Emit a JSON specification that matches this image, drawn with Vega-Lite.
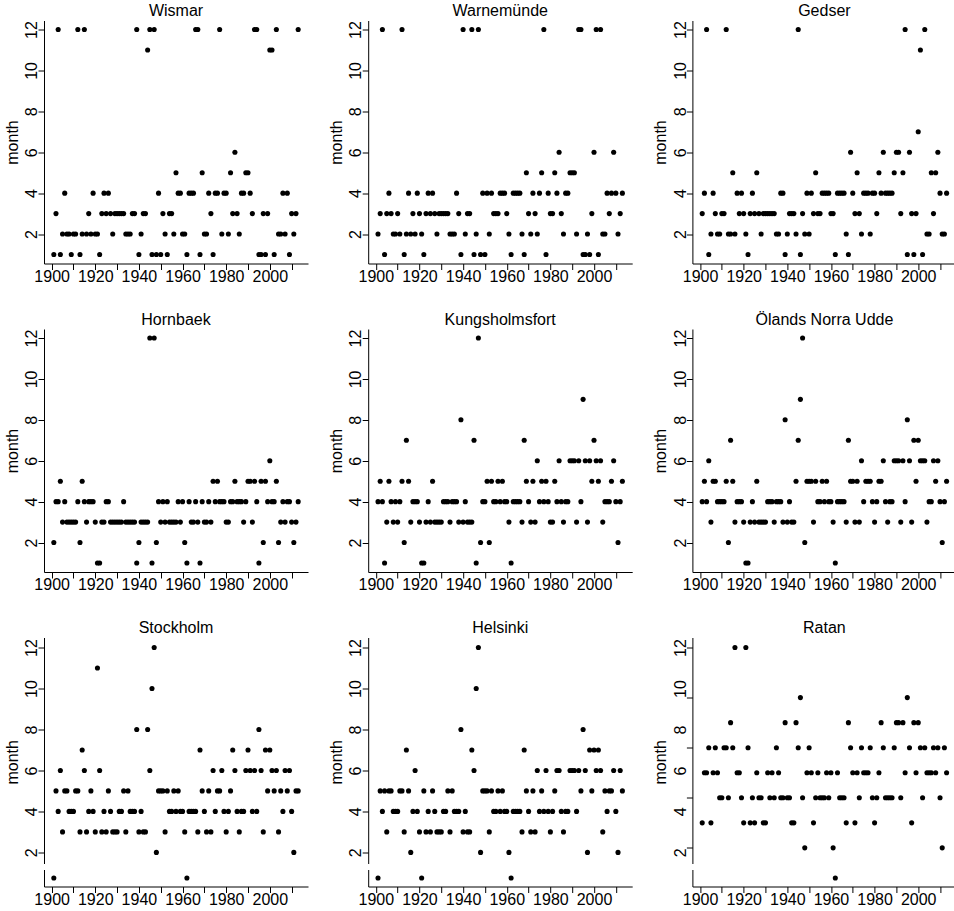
{
  "$schema": "https://vega.github.io/schema/vega-lite/v6.json",
  "background": "white",
  "padding": {"left": 3, "top": 2.5, "right": 0, "bottom": 0},
  "datasets": {
    "wismar": [
      {"year":1901,"month":1},{"year":1902,"month":3},{"year":1903,"month":12},{"year":1904,"month":1},{"year":1905,"month":2},{"year":1906,"month":4},{"year":1907,"month":2},{"year":1908,"month":2},{"year":1909,"month":1},{"year":1910,"month":2},
      {"year":1911,"month":2},{"year":1912,"month":12},{"year":1913,"month":1},{"year":1914,"month":2},{"year":1915,"month":12},{"year":1916,"month":2},{"year":1917,"month":3},{"year":1918,"month":2},{"year":1919,"month":4},{"year":1920,"month":2},
      {"year":1921,"month":2},{"year":1922,"month":1},{"year":1923,"month":3},{"year":1924,"month":4},{"year":1925,"month":3},{"year":1926,"month":4},{"year":1927,"month":3},{"year":1928,"month":2},{"year":1929,"month":3},{"year":1930,"month":3},
      {"year":1931,"month":3},{"year":1932,"month":3},{"year":1933,"month":3},{"year":1934,"month":2},{"year":1935,"month":2},{"year":1936,"month":2},{"year":1937,"month":3},{"year":1938,"month":3},{"year":1939,"month":12},{"year":1940,"month":1},
      {"year":1941,"month":2},{"year":1942,"month":3},{"year":1943,"month":3},{"year":1944,"month":11},{"year":1945,"month":12},{"year":1946,"month":1},{"year":1947,"month":12},{"year":1948,"month":1},{"year":1949,"month":4},{"year":1950,"month":1},
      {"year":1951,"month":3},{"year":1952,"month":2},{"year":1953,"month":1},{"year":1954,"month":3},{"year":1955,"month":3},{"year":1956,"month":2},{"year":1957,"month":5},{"year":1958,"month":4},{"year":1959,"month":4},{"year":1960,"month":2},
      {"year":1961,"month":2},{"year":1962,"month":1},{"year":1963,"month":4},{"year":1964,"month":4},{"year":1965,"month":4},{"year":1966,"month":12},{"year":1967,"month":12},{"year":1968,"month":1},{"year":1969,"month":5},{"year":1970,"month":2},
      {"year":1971,"month":2},{"year":1972,"month":4},{"year":1973,"month":3},{"year":1974,"month":1},{"year":1975,"month":4},{"year":1976,"month":4},{"year":1977,"month":12},{"year":1978,"month":2},{"year":1979,"month":4},{"year":1980,"month":4},
      {"year":1981,"month":2},{"year":1982,"month":5},{"year":1983,"month":3},{"year":1984,"month":6},{"year":1985,"month":3},{"year":1986,"month":2},{"year":1987,"month":4},{"year":1988,"month":4},{"year":1989,"month":5},{"year":1990,"month":5},
      {"year":1991,"month":4},{"year":1992,"month":3},{"year":1993,"month":12},{"year":1994,"month":12},{"year":1995,"month":1},{"year":1996,"month":1},{"year":1997,"month":3},{"year":1998,"month":1},{"year":1999,"month":3},{"year":2000,"month":11},
      {"year":2001,"month":11},{"year":2002,"month":1},{"year":2003,"month":12},{"year":2004,"month":2},{"year":2005,"month":2},{"year":2006,"month":4},{"year":2007,"month":2},{"year":2008,"month":4},{"year":2009,"month":1},{"year":2010,"month":3},
      {"year":2011,"month":2},{"year":2012,"month":3},{"year":2013,"month":12}
    ],
    "warnemunde": [
      {"year":1901,"month":2},{"year":1902,"month":3},{"year":1903,"month":12},{"year":1904,"month":1},{"year":1905,"month":3},{"year":1906,"month":4},{"year":1907,"month":3},{"year":1908,"month":2},{"year":1909,"month":2},{"year":1910,"month":3},
      {"year":1911,"month":2},{"year":1912,"month":12},{"year":1913,"month":1},{"year":1914,"month":2},{"year":1915,"month":4},{"year":1916,"month":2},{"year":1917,"month":3},{"year":1918,"month":2},{"year":1919,"month":4},{"year":1920,"month":3},
      {"year":1921,"month":2},{"year":1922,"month":1},{"year":1923,"month":3},{"year":1924,"month":4},{"year":1925,"month":3},{"year":1926,"month":4},{"year":1927,"month":3},{"year":1928,"month":2},{"year":1929,"month":3},{"year":1930,"month":3},
      {"year":1931,"month":3},{"year":1932,"month":3},{"year":1933,"month":3},{"year":1934,"month":2},{"year":1935,"month":2},{"year":1936,"month":2},{"year":1937,"month":4},{"year":1938,"month":3},{"year":1939,"month":1},{"year":1940,"month":12},
      {"year":1941,"month":2},{"year":1942,"month":3},{"year":1943,"month":3},{"year":1944,"month":12},{"year":1945,"month":1},{"year":1946,"month":2},{"year":1947,"month":12},{"year":1948,"month":1},{"year":1949,"month":4},{"year":1950,"month":1},
      {"year":1951,"month":4},{"year":1952,"month":2},{"year":1953,"month":4},{"year":1954,"month":3},{"year":1955,"month":3},{"year":1956,"month":3},{"year":1957,"month":4},{"year":1958,"month":4},{"year":1959,"month":4},{"year":1960,"month":3},
      {"year":1961,"month":2},{"year":1962,"month":1},{"year":1963,"month":4},{"year":1964,"month":4},{"year":1965,"month":4},{"year":1966,"month":4},{"year":1967,"month":2},{"year":1968,"month":1},{"year":1969,"month":5},{"year":1970,"month":3},
      {"year":1971,"month":2},{"year":1972,"month":4},{"year":1973,"month":3},{"year":1974,"month":2},{"year":1975,"month":4},{"year":1976,"month":5},{"year":1977,"month":12},{"year":1978,"month":1},{"year":1979,"month":4},{"year":1980,"month":3},
      {"year":1981,"month":3},{"year":1982,"month":5},{"year":1983,"month":4},{"year":1984,"month":6},{"year":1985,"month":3},{"year":1986,"month":2},{"year":1987,"month":4},{"year":1988,"month":4},{"year":1989,"month":5},{"year":1990,"month":5},
      {"year":1991,"month":5},{"year":1992,"month":2},{"year":1993,"month":12},{"year":1994,"month":12},{"year":1995,"month":1},{"year":1996,"month":1},{"year":1997,"month":2},{"year":1998,"month":1},{"year":1999,"month":3},{"year":2000,"month":6},
      {"year":2001,"month":12},{"year":2002,"month":1},{"year":2003,"month":12},{"year":2004,"month":2},{"year":2005,"month":2},{"year":2006,"month":4},{"year":2007,"month":3},{"year":2008,"month":4},{"year":2009,"month":6},{"year":2010,"month":4},
      {"year":2011,"month":2},{"year":2012,"month":3},{"year":2013,"month":4}
    ],
    "gedser": [
      {"year":1901,"month":3},{"year":1902,"month":4},{"year":1903,"month":12},{"year":1904,"month":1},{"year":1905,"month":2},{"year":1906,"month":4},{"year":1907,"month":3},{"year":1908,"month":2},{"year":1909,"month":2},{"year":1910,"month":3},
      {"year":1911,"month":3},{"year":1912,"month":12},{"year":1913,"month":2},{"year":1914,"month":2},{"year":1915,"month":5},{"year":1916,"month":2},{"year":1917,"month":4},{"year":1918,"month":3},{"year":1919,"month":4},{"year":1920,"month":3},
      {"year":1921,"month":2},{"year":1922,"month":1},{"year":1923,"month":3},{"year":1924,"month":4},{"year":1925,"month":3},{"year":1926,"month":5},{"year":1927,"month":3},{"year":1928,"month":2},{"year":1929,"month":3},{"year":1930,"month":3},
      {"year":1931,"month":3},{"year":1932,"month":3},{"year":1933,"month":3},{"year":1934,"month":3},{"year":1935,"month":2},{"year":1936,"month":2},{"year":1937,"month":4},{"year":1938,"month":4},{"year":1939,"month":1},{"year":1940,"month":2},
      {"year":1941,"month":3},{"year":1942,"month":3},{"year":1943,"month":3},{"year":1944,"month":2},{"year":1945,"month":12},{"year":1946,"month":1},{"year":1947,"month":3},{"year":1948,"month":2},{"year":1949,"month":4},{"year":1950,"month":2},
      {"year":1951,"month":4},{"year":1952,"month":3},{"year":1953,"month":5},{"year":1954,"month":3},{"year":1955,"month":3},{"year":1956,"month":4},{"year":1957,"month":4},{"year":1958,"month":4},{"year":1959,"month":4},{"year":1960,"month":3},
      {"year":1961,"month":3},{"year":1962,"month":1},{"year":1963,"month":4},{"year":1964,"month":4},{"year":1965,"month":4},{"year":1966,"month":4},{"year":1967,"month":2},{"year":1968,"month":1},{"year":1969,"month":6},{"year":1970,"month":4},
      {"year":1971,"month":3},{"year":1972,"month":5},{"year":1973,"month":3},{"year":1974,"month":2},{"year":1975,"month":4},{"year":1976,"month":4},{"year":1977,"month":4},{"year":1978,"month":2},{"year":1979,"month":4},{"year":1980,"month":4},
      {"year":1981,"month":3},{"year":1982,"month":5},{"year":1983,"month":4},{"year":1984,"month":6},{"year":1985,"month":4},{"year":1986,"month":4},{"year":1987,"month":4},{"year":1988,"month":4},{"year":1989,"month":5},{"year":1990,"month":6},
      {"year":1991,"month":6},{"year":1992,"month":3},{"year":1993,"month":5},{"year":1994,"month":12},{"year":1995,"month":1},{"year":1996,"month":6},{"year":1997,"month":3},{"year":1998,"month":1},{"year":1999,"month":3},{"year":2000,"month":7},
      {"year":2001,"month":11},{"year":2002,"month":1},{"year":2003,"month":12},{"year":2004,"month":2},{"year":2005,"month":2},{"year":2006,"month":5},{"year":2007,"month":3},{"year":2008,"month":5},{"year":2009,"month":6},{"year":2010,"month":4},
      {"year":2011,"month":2},{"year":2012,"month":2},{"year":2013,"month":4}
    ],
    "hornbaek": [
      {"year":1901,"month":2},{"year":1902,"month":4},{"year":1903,"month":4},{"year":1904,"month":5},{"year":1905,"month":3},{"year":1906,"month":4},{"year":1907,"month":3},{"year":1908,"month":3},{"year":1909,"month":3},{"year":1910,"month":3},
      {"year":1911,"month":3},{"year":1912,"month":4},{"year":1913,"month":2},{"year":1914,"month":5},{"year":1915,"month":4},{"year":1916,"month":3},{"year":1917,"month":4},{"year":1918,"month":4},{"year":1919,"month":4},{"year":1920,"month":3},
      {"year":1921,"month":1},{"year":1922,"month":1},{"year":1923,"month":3},{"year":1924,"month":3},{"year":1925,"month":4},{"year":1926,"month":4},{"year":1927,"month":3},{"year":1928,"month":3},{"year":1929,"month":3},{"year":1930,"month":3},
      {"year":1931,"month":3},{"year":1932,"month":3},{"year":1933,"month":4},{"year":1934,"month":3},{"year":1935,"month":3},{"year":1936,"month":3},{"year":1937,"month":3},{"year":1938,"month":3},{"year":1939,"month":1},{"year":1940,"month":2},
      {"year":1941,"month":3},{"year":1942,"month":3},{"year":1943,"month":3},{"year":1944,"month":3},{"year":1945,"month":12},{"year":1946,"month":1},{"year":1947,"month":12},{"year":1948,"month":2},{"year":1949,"month":4},{"year":1950,"month":3},
      {"year":1951,"month":4},{"year":1952,"month":3},{"year":1953,"month":4},{"year":1954,"month":3},{"year":1955,"month":3},{"year":1956,"month":3},{"year":1957,"month":3},{"year":1958,"month":4},{"year":1959,"month":3},{"year":1960,"month":4},
      {"year":1961,"month":2},{"year":1962,"month":1},{"year":1963,"month":4},{"year":1964,"month":3},{"year":1965,"month":3},{"year":1966,"month":4},{"year":1967,"month":3},{"year":1968,"month":1},{"year":1969,"month":4},{"year":1970,"month":3},
      {"year":1971,"month":3},{"year":1972,"month":4},{"year":1973,"month":3},{"year":1974,"month":5},{"year":1975,"month":4},{"year":1976,"month":5},{"year":1977,"month":4},{"year":1978,"month":4},{"year":1979,"month":4},{"year":1980,"month":3},
      {"year":1981,"month":3},{"year":1982,"month":4},{"year":1983,"month":4},{"year":1984,"month":5},{"year":1985,"month":4},{"year":1986,"month":4},{"year":1987,"month":4},{"year":1988,"month":3},{"year":1989,"month":4},{"year":1990,"month":5},
      {"year":1991,"month":5},{"year":1992,"month":3},{"year":1993,"month":5},{"year":1994,"month":4},{"year":1995,"month":1},{"year":1996,"month":5},{"year":1997,"month":2},{"year":1998,"month":5},{"year":1999,"month":4},{"year":2000,"month":6},
      {"year":2001,"month":4},{"year":2002,"month":4},{"year":2003,"month":5},{"year":2004,"month":2},{"year":2005,"month":3},{"year":2006,"month":4},{"year":2007,"month":3},{"year":2008,"month":4},{"year":2009,"month":4},{"year":2010,"month":3},
      {"year":2011,"month":2},{"year":2012,"month":3},{"year":2013,"month":4}
    ],
    "kungsholmsfort": [
      {"year":1901,"month":4},{"year":1902,"month":5},{"year":1903,"month":4},{"year":1904,"month":1},{"year":1905,"month":3},{"year":1906,"month":5},{"year":1907,"month":4},{"year":1908,"month":3},{"year":1909,"month":4},{"year":1910,"month":3},
      {"year":1911,"month":4},{"year":1912,"month":5},{"year":1913,"month":2},{"year":1914,"month":7},{"year":1915,"month":5},{"year":1916,"month":3},{"year":1917,"month":4},{"year":1918,"month":4},{"year":1919,"month":4},{"year":1920,"month":3},
      {"year":1921,"month":1},{"year":1922,"month":1},{"year":1923,"month":3},{"year":1924,"month":4},{"year":1925,"month":3},{"year":1926,"month":5},{"year":1927,"month":3},{"year":1928,"month":3},{"year":1929,"month":3},{"year":1930,"month":3},
      {"year":1931,"month":4},{"year":1932,"month":4},{"year":1933,"month":4},{"year":1934,"month":3},{"year":1935,"month":4},{"year":1936,"month":4},{"year":1937,"month":4},{"year":1938,"month":3},{"year":1939,"month":8},{"year":1940,"month":3},
      {"year":1941,"month":4},{"year":1942,"month":3},{"year":1943,"month":3},{"year":1944,"month":3},{"year":1945,"month":7},{"year":1946,"month":1},{"year":1947,"month":12},{"year":1948,"month":2},{"year":1949,"month":4},{"year":1950,"month":4},
      {"year":1951,"month":5},{"year":1952,"month":2},{"year":1953,"month":5},{"year":1954,"month":4},{"year":1955,"month":4},{"year":1956,"month":5},{"year":1957,"month":4},{"year":1958,"month":5},{"year":1959,"month":4},{"year":1960,"month":4},
      {"year":1961,"month":3},{"year":1962,"month":1},{"year":1963,"month":4},{"year":1964,"month":4},{"year":1965,"month":4},{"year":1966,"month":4},{"year":1967,"month":3},{"year":1968,"month":7},{"year":1969,"month":5},{"year":1970,"month":4},
      {"year":1971,"month":3},{"year":1972,"month":5},{"year":1973,"month":3},{"year":1974,"month":6},{"year":1975,"month":4},{"year":1976,"month":5},{"year":1977,"month":4},{"year":1978,"month":5},{"year":1979,"month":4},{"year":1980,"month":3},
      {"year":1981,"month":3},{"year":1982,"month":5},{"year":1983,"month":4},{"year":1984,"month":6},{"year":1985,"month":4},{"year":1986,"month":3},{"year":1987,"month":4},{"year":1988,"month":4},{"year":1989,"month":6},{"year":1990,"month":6},
      {"year":1991,"month":6},{"year":1992,"month":3},{"year":1993,"month":6},{"year":1994,"month":4},{"year":1995,"month":9},{"year":1996,"month":6},{"year":1997,"month":3},{"year":1998,"month":6},{"year":1999,"month":5},{"year":2000,"month":7},
      {"year":2001,"month":6},{"year":2002,"month":5},{"year":2003,"month":6},{"year":2004,"month":3},{"year":2005,"month":4},{"year":2006,"month":4},{"year":2007,"month":4},{"year":2008,"month":5},{"year":2009,"month":6},{"year":2010,"month":4},
      {"year":2011,"month":2},{"year":2012,"month":4},{"year":2013,"month":5}
    ],
    "oland": [
      {"year":1901,"month":4},{"year":1902,"month":5},{"year":1903,"month":4},{"year":1904,"month":6},{"year":1905,"month":3},{"year":1906,"month":5},{"year":1907,"month":5},{"year":1908,"month":4},{"year":1909,"month":4},{"year":1910,"month":4},
      {"year":1911,"month":4},{"year":1912,"month":5},{"year":1913,"month":2},{"year":1914,"month":7},{"year":1915,"month":5},{"year":1916,"month":3},{"year":1917,"month":4},{"year":1918,"month":4},{"year":1919,"month":4},{"year":1920,"month":3},
      {"year":1921,"month":1},{"year":1922,"month":1},{"year":1923,"month":3},{"year":1924,"month":4},{"year":1925,"month":3},{"year":1926,"month":5},{"year":1927,"month":3},{"year":1928,"month":3},{"year":1929,"month":3},{"year":1930,"month":3},
      {"year":1931,"month":4},{"year":1932,"month":4},{"year":1933,"month":4},{"year":1934,"month":3},{"year":1935,"month":4},{"year":1936,"month":4},{"year":1937,"month":4},{"year":1938,"month":3},{"year":1939,"month":8},{"year":1940,"month":3},
      {"year":1941,"month":4},{"year":1942,"month":3},{"year":1943,"month":3},{"year":1944,"month":5},{"year":1945,"month":7},{"year":1946,"month":9},{"year":1947,"month":12},{"year":1948,"month":2},{"year":1949,"month":5},{"year":1950,"month":5},
      {"year":1951,"month":5},{"year":1952,"month":3},{"year":1953,"month":5},{"year":1954,"month":4},{"year":1955,"month":4},{"year":1956,"month":5},{"year":1957,"month":4},{"year":1958,"month":5},{"year":1959,"month":4},{"year":1960,"month":4},
      {"year":1961,"month":3},{"year":1962,"month":1},{"year":1963,"month":4},{"year":1964,"month":4},{"year":1965,"month":4},{"year":1966,"month":4},{"year":1967,"month":3},{"year":1968,"month":7},{"year":1969,"month":5},{"year":1970,"month":5},
      {"year":1971,"month":3},{"year":1972,"month":5},{"year":1973,"month":3},{"year":1974,"month":6},{"year":1975,"month":4},{"year":1976,"month":5},{"year":1977,"month":5},{"year":1978,"month":5},{"year":1979,"month":4},{"year":1980,"month":3},
      {"year":1981,"month":4},{"year":1982,"month":5},{"year":1983,"month":5},{"year":1984,"month":6},{"year":1985,"month":4},{"year":1986,"month":3},{"year":1987,"month":4},{"year":1988,"month":4},{"year":1989,"month":6},{"year":1990,"month":6},
      {"year":1991,"month":6},{"year":1992,"month":3},{"year":1993,"month":6},{"year":1994,"month":4},{"year":1995,"month":8},{"year":1996,"month":6},{"year":1997,"month":3},{"year":1998,"month":7},{"year":1999,"month":5},{"year":2000,"month":7},
      {"year":2001,"month":6},{"year":2002,"month":6},{"year":2003,"month":6},{"year":2004,"month":3},{"year":2005,"month":4},{"year":2006,"month":4},{"year":2007,"month":6},{"year":2008,"month":5},{"year":2009,"month":6},{"year":2010,"month":4},
      {"year":2011,"month":2},{"year":2012,"month":4},{"year":2013,"month":5}
    ],
    "stockholm": [
      {"year":1901,"month":1},{"year":1902,"month":5},{"year":1903,"month":4},{"year":1904,"month":6},{"year":1905,"month":3},{"year":1906,"month":5},{"year":1907,"month":5},{"year":1908,"month":4},{"year":1909,"month":4},{"year":1910,"month":4},
      {"year":1911,"month":5},{"year":1912,"month":5},{"year":1913,"month":3},{"year":1914,"month":7},{"year":1915,"month":6},{"year":1916,"month":3},{"year":1917,"month":4},{"year":1918,"month":5},{"year":1919,"month":4},{"year":1920,"month":3},
      {"year":1921,"month":11},{"year":1922,"month":6},{"year":1923,"month":3},{"year":1924,"month":4},{"year":1925,"month":3},{"year":1926,"month":5},{"year":1927,"month":4},{"year":1928,"month":3},{"year":1929,"month":3},{"year":1930,"month":3},
      {"year":1931,"month":4},{"year":1932,"month":4},{"year":1933,"month":5},{"year":1934,"month":3},{"year":1935,"month":5},{"year":1936,"month":4},{"year":1937,"month":4},{"year":1938,"month":4},{"year":1939,"month":8},{"year":1940,"month":3},
      {"year":1941,"month":4},{"year":1942,"month":3},{"year":1943,"month":3},{"year":1944,"month":8},{"year":1945,"month":6},{"year":1946,"month":10},{"year":1947,"month":12},{"year":1948,"month":2},{"year":1949,"month":5},{"year":1950,"month":5},
      {"year":1951,"month":5},{"year":1952,"month":3},{"year":1953,"month":5},{"year":1954,"month":4},{"year":1955,"month":4},{"year":1956,"month":5},{"year":1957,"month":4},{"year":1958,"month":5},{"year":1959,"month":4},{"year":1960,"month":4},
      {"year":1961,"month":3},{"year":1962,"month":1},{"year":1963,"month":4},{"year":1964,"month":4},{"year":1965,"month":4},{"year":1966,"month":4},{"year":1967,"month":3},{"year":1968,"month":7},{"year":1969,"month":5},{"year":1970,"month":4},
      {"year":1971,"month":3},{"year":1972,"month":5},{"year":1973,"month":3},{"year":1974,"month":6},{"year":1975,"month":4},{"year":1976,"month":5},{"year":1977,"month":5},{"year":1978,"month":6},{"year":1979,"month":4},{"year":1980,"month":3},
      {"year":1981,"month":4},{"year":1982,"month":5},{"year":1983,"month":7},{"year":1984,"month":6},{"year":1985,"month":4},{"year":1986,"month":3},{"year":1987,"month":4},{"year":1988,"month":4},{"year":1989,"month":6},{"year":1990,"month":7},
      {"year":1991,"month":6},{"year":1992,"month":4},{"year":1993,"month":6},{"year":1994,"month":4},{"year":1995,"month":8},{"year":1996,"month":6},{"year":1997,"month":3},{"year":1998,"month":7},{"year":1999,"month":5},{"year":2000,"month":7},
      {"year":2001,"month":6},{"year":2002,"month":5},{"year":2003,"month":6},{"year":2004,"month":3},{"year":2005,"month":5},{"year":2006,"month":4},{"year":2007,"month":6},{"year":2008,"month":5},{"year":2009,"month":6},{"year":2010,"month":4},
      {"year":2011,"month":2},{"year":2012,"month":5},{"year":2013,"month":5}
    ],
    "helsinki": [
      {"year":1901,"month":1},{"year":1902,"month":5},{"year":1903,"month":4},{"year":1904,"month":5},{"year":1905,"month":3},{"year":1906,"month":5},{"year":1907,"month":5},{"year":1908,"month":4},{"year":1909,"month":4},{"year":1910,"month":4},
      {"year":1911,"month":5},{"year":1912,"month":5},{"year":1913,"month":3},{"year":1914,"month":7},{"year":1915,"month":5},{"year":1916,"month":2},{"year":1917,"month":4},{"year":1918,"month":6},{"year":1919,"month":4},{"year":1920,"month":3},
      {"year":1921,"month":1},{"year":1922,"month":5},{"year":1923,"month":3},{"year":1924,"month":4},{"year":1925,"month":3},{"year":1926,"month":5},{"year":1927,"month":4},{"year":1928,"month":3},{"year":1929,"month":3},{"year":1930,"month":3},
      {"year":1931,"month":4},{"year":1932,"month":4},{"year":1933,"month":5},{"year":1934,"month":3},{"year":1935,"month":5},{"year":1936,"month":4},{"year":1937,"month":4},{"year":1938,"month":4},{"year":1939,"month":8},{"year":1940,"month":3},
      {"year":1941,"month":4},{"year":1942,"month":3},{"year":1943,"month":3},{"year":1944,"month":7},{"year":1945,"month":6},{"year":1946,"month":10},{"year":1947,"month":12},{"year":1948,"month":2},{"year":1949,"month":5},{"year":1950,"month":5},
      {"year":1951,"month":5},{"year":1952,"month":3},{"year":1953,"month":5},{"year":1954,"month":4},{"year":1955,"month":4},{"year":1956,"month":5},{"year":1957,"month":4},{"year":1958,"month":5},{"year":1959,"month":4},{"year":1960,"month":4},
      {"year":1961,"month":2},{"year":1962,"month":1},{"year":1963,"month":4},{"year":1964,"month":4},{"year":1965,"month":4},{"year":1966,"month":4},{"year":1967,"month":3},{"year":1968,"month":7},{"year":1969,"month":5},{"year":1970,"month":4},
      {"year":1971,"month":3},{"year":1972,"month":5},{"year":1973,"month":3},{"year":1974,"month":6},{"year":1975,"month":4},{"year":1976,"month":5},{"year":1977,"month":4},{"year":1978,"month":6},{"year":1979,"month":4},{"year":1980,"month":3},
      {"year":1981,"month":4},{"year":1982,"month":5},{"year":1983,"month":6},{"year":1984,"month":6},{"year":1985,"month":4},{"year":1986,"month":3},{"year":1987,"month":4},{"year":1988,"month":4},{"year":1989,"month":6},{"year":1990,"month":6},
      {"year":1991,"month":6},{"year":1992,"month":4},{"year":1993,"month":6},{"year":1994,"month":5},{"year":1995,"month":8},{"year":1996,"month":6},{"year":1997,"month":2},{"year":1998,"month":7},{"year":1999,"month":5},{"year":2000,"month":7},
      {"year":2001,"month":6},{"year":2002,"month":7},{"year":2003,"month":6},{"year":2004,"month":3},{"year":2005,"month":5},{"year":2006,"month":4},{"year":2007,"month":5},{"year":2008,"month":5},{"year":2009,"month":6},{"year":2010,"month":4},
      {"year":2011,"month":2},{"year":2012,"month":6},{"year":2013,"month":5}
    ],
    "ratan": [
      {"year":1901,"month":5},{"year":1902,"month":7},{"year":1903,"month":7},{"year":1904,"month":8},{"year":1905,"month":5},{"year":1906,"month":7},{"year":1907,"month":8},{"year":1908,"month":7},{"year":1909,"month":6},{"year":1910,"month":6},
      {"year":1911,"month":8},{"year":1912,"month":8},{"year":1913,"month":6},{"year":1914,"month":9},{"year":1915,"month":8},{"year":1916,"month":12},{"year":1917,"month":7},{"year":1918,"month":7},{"year":1919,"month":6},{"year":1920,"month":5},
      {"year":1921,"month":12},{"year":1922,"month":8},{"year":1923,"month":5},{"year":1924,"month":6},{"year":1925,"month":5},{"year":1926,"month":7},{"year":1927,"month":6},{"year":1928,"month":6},{"year":1929,"month":5},{"year":1930,"month":5},
      {"year":1931,"month":7},{"year":1932,"month":6},{"year":1933,"month":7},{"year":1934,"month":6},{"year":1935,"month":8},{"year":1936,"month":7},{"year":1937,"month":6},{"year":1938,"month":6},{"year":1939,"month":9},{"year":1940,"month":6},
      {"year":1941,"month":6},{"year":1942,"month":5},{"year":1943,"month":5},{"year":1944,"month":9},{"year":1945,"month":8},{"year":1946,"month":10},{"year":1947,"month":6},{"year":1948,"month":4},{"year":1949,"month":7},{"year":1950,"month":8},
      {"year":1951,"month":7},{"year":1952,"month":5},{"year":1953,"month":6},{"year":1954,"month":7},{"year":1955,"month":6},{"year":1956,"month":6},{"year":1957,"month":6},{"year":1958,"month":7},{"year":1959,"month":6},{"year":1960,"month":7},
      {"year":1961,"month":4},{"year":1962,"month":3},{"year":1963,"month":7},{"year":1964,"month":6},{"year":1965,"month":6},{"year":1966,"month":6},{"year":1967,"month":5},{"year":1968,"month":9},{"year":1969,"month":8},{"year":1970,"month":7},
      {"year":1971,"month":5},{"year":1972,"month":7},{"year":1973,"month":6},{"year":1974,"month":8},{"year":1975,"month":7},{"year":1976,"month":7},{"year":1977,"month":7},{"year":1978,"month":8},{"year":1979,"month":6},{"year":1980,"month":5},
      {"year":1981,"month":6},{"year":1982,"month":7},{"year":1983,"month":9},{"year":1984,"month":8},{"year":1985,"month":6},{"year":1986,"month":6},{"year":1987,"month":6},{"year":1988,"month":6},{"year":1989,"month":8},{"year":1990,"month":9},
      {"year":1991,"month":9},{"year":1992,"month":6},{"year":1993,"month":9},{"year":1994,"month":7},{"year":1995,"month":10},{"year":1996,"month":8},{"year":1997,"month":5},{"year":1998,"month":9},{"year":1999,"month":7},{"year":2000,"month":9},
      {"year":2001,"month":8},{"year":2002,"month":6},{"year":2003,"month":8},{"year":2004,"month":7},{"year":2005,"month":7},{"year":2006,"month":7},{"year":2007,"month":8},{"year":2008,"month":7},{"year":2009,"month":8},{"year":2010,"month":6},
      {"year":2011,"month":4},{"year":2012,"month":8},{"year":2013,"month":7}
    ]
  },
  "vconcat": [
    {
      "hconcat": [
        {
          "title": "Wismar",
          "width": 264, "height": 243,
          "data": {"name": "wismar"},
          "mark": {"type": "point", "filled": true, "size": 26, "color": "black", "opacity": 1},
          "encoding": {
            "x": {"field": "year", "type": "quantitative", "scale": {"domain": [1896.5, 2017.5], "nice": false, "zero": false}, "axis": {"values": [1900, 1910, 1920, 1930, 1940, 1950, 1960, 1970, 1980, 1990, 2000, 2010], "format": "d", "labelExpr": "datum.value % 20 === 0 ? datum.label : ''", "title": null}},
            "y": {"field": "month", "type": "quantitative", "scale": {"domain": [0.56, 12.44], "nice": false, "zero": false}, "axis": {"values": [2, 4, 6, 8, 10, 12], "title": "month"}}
          }
        },
        {
          "title": "Warnemünde",
          "width": 264, "height": 243,
          "data": {"name": "warnemunde"},
          "mark": {"type": "point", "filled": true, "size": 26, "color": "black", "opacity": 1},
          "encoding": {
            "x": {"field": "year", "type": "quantitative", "scale": {"domain": [1896.5, 2017.5], "nice": false, "zero": false}, "axis": {"values": [1900, 1910, 1920, 1930, 1940, 1950, 1960, 1970, 1980, 1990, 2000, 2010], "format": "d", "labelExpr": "datum.value % 20 === 0 ? datum.label : ''", "title": null}},
            "y": {"field": "month", "type": "quantitative", "scale": {"domain": [0.56, 12.44], "nice": false, "zero": false}, "axis": {"values": [2, 4, 6, 8, 10, 12], "title": "month"}}
          }
        },
        {
          "title": "Gedser",
          "width": 264, "height": 243,
          "data": {"name": "gedser"},
          "mark": {"type": "point", "filled": true, "size": 26, "color": "black", "opacity": 1},
          "encoding": {
            "x": {"field": "year", "type": "quantitative", "scale": {"domain": [1896.5, 2017.5], "nice": false, "zero": false}, "axis": {"values": [1900, 1910, 1920, 1930, 1940, 1950, 1960, 1970, 1980, 1990, 2000, 2010], "format": "d", "labelExpr": "datum.value % 20 === 0 ? datum.label : ''", "title": null}},
            "y": {"field": "month", "type": "quantitative", "scale": {"domain": [0.56, 12.44], "nice": false, "zero": false}, "axis": {"values": [2, 4, 6, 8, 10, 12], "title": "month"}}
          }
        }
      ],
      "spacing": 19.2,
      "resolve": {"scale": {"x": "independent", "y": "independent"}}
    },
    {
      "hconcat": [
        {
          "title": "Hornbaek",
          "width": 264, "height": 243,
          "data": {"name": "hornbaek"},
          "mark": {"type": "point", "filled": true, "size": 26, "color": "black", "opacity": 1},
          "encoding": {
            "x": {"field": "year", "type": "quantitative", "scale": {"domain": [1896.5, 2017.5], "nice": false, "zero": false}, "axis": {"values": [1900, 1910, 1920, 1930, 1940, 1950, 1960, 1970, 1980, 1990, 2000, 2010], "format": "d", "labelExpr": "datum.value % 20 === 0 ? datum.label : ''", "title": null}},
            "y": {"field": "month", "type": "quantitative", "scale": {"domain": [0.56, 12.44], "nice": false, "zero": false}, "axis": {"values": [2, 4, 6, 8, 10, 12], "title": "month"}}
          }
        },
        {
          "title": "Kungsholmsfort",
          "width": 264, "height": 243,
          "data": {"name": "kungsholmsfort"},
          "mark": {"type": "point", "filled": true, "size": 26, "color": "black", "opacity": 1},
          "encoding": {
            "x": {"field": "year", "type": "quantitative", "scale": {"domain": [1896.5, 2017.5], "nice": false, "zero": false}, "axis": {"values": [1900, 1910, 1920, 1930, 1940, 1950, 1960, 1970, 1980, 1990, 2000, 2010], "format": "d", "labelExpr": "datum.value % 20 === 0 ? datum.label : ''", "title": null}},
            "y": {"field": "month", "type": "quantitative", "scale": {"domain": [0.56, 12.44], "nice": false, "zero": false}, "axis": {"values": [2, 4, 6, 8, 10, 12], "title": "month"}}
          }
        },
        {
          "title": "Ölands Norra Udde",
          "width": 264, "height": 243,
          "data": {"name": "oland"},
          "mark": {"type": "point", "filled": true, "size": 26, "color": "black", "opacity": 1},
          "encoding": {
            "x": {"field": "year", "type": "quantitative", "scale": {"domain": [1896.5, 2017.5], "nice": false, "zero": false}, "axis": {"values": [1900, 1910, 1920, 1930, 1940, 1950, 1960, 1970, 1980, 1990, 2000, 2010], "format": "d", "labelExpr": "datum.value % 20 === 0 ? datum.label : ''", "title": null}},
            "y": {"field": "month", "type": "quantitative", "scale": {"domain": [0.56, 12.44], "nice": false, "zero": false}, "axis": {"values": [2, 4, 6, 8, 10, 12], "title": "month"}}
          }
        }
      ],
      "spacing": 19.2,
      "resolve": {"scale": {"x": "independent", "y": "independent"}}
    },
    {
      "hconcat": [
        {
          "vconcat": [
            {
              "title": "Stockholm",
              "width": 264, "height": 226,
              "data": {"name": "stockholm"},
              "transform": [{"filter": "datum.month > 1.5"}],
              "mark": {"type": "point", "filled": true, "size": 26, "color": "black", "opacity": 1},
              "encoding": {
                "x": {"field": "year", "type": "quantitative", "scale": {"domain": [1896.5, 2017.5], "nice": false, "zero": false}, "axis": null},
                "y": {"field": "month", "type": "quantitative", "scale": {"domain": [1.457, 12.489], "nice": false, "zero": false}, "axis": {"values": [2, 4, 6, 8, 10, 12], "title": "month", "titleY": 124.3}}
              }
            },
            {
              "width": 264, "height": 17,
              "data": {"name": "stockholm"},
              "transform": [{"filter": "datum.month <= 1.5"}],
              "mark": {"type": "point", "filled": true, "size": 26, "color": "black", "opacity": 1},
              "encoding": {
                "x": {"field": "year", "type": "quantitative", "scale": {"domain": [1896.5, 2017.5], "nice": false, "zero": false}, "axis": {"values": [1900, 1910, 1920, 1930, 1940, 1950, 1960, 1970, 1980, 1990, 2000, 2010], "format": "d", "labelExpr": "datum.value % 20 === 0 ? datum.label : ''", "title": null}},
                "y": {"field": "month", "type": "quantitative", "scale": {"domain": [0.5, 1.5], "nice": false, "zero": false}, "axis": {"ticks": false, "labels": false, "title": null}}
              }
            }
          ],
          "spacing": 6,
          "resolve": {"scale": {"x": "independent", "y": "independent"}}
        },
        {
          "vconcat": [
            {
              "title": "Helsinki",
              "width": 264, "height": 226,
              "data": {"name": "helsinki"},
              "transform": [{"filter": "datum.month > 1.5"}],
              "mark": {"type": "point", "filled": true, "size": 26, "color": "black", "opacity": 1},
              "encoding": {
                "x": {"field": "year", "type": "quantitative", "scale": {"domain": [1896.5, 2017.5], "nice": false, "zero": false}, "axis": null},
                "y": {"field": "month", "type": "quantitative", "scale": {"domain": [1.457, 12.489], "nice": false, "zero": false}, "axis": {"values": [2, 4, 6, 8, 10, 12], "title": "month", "titleY": 124.3}}
              }
            },
            {
              "width": 264, "height": 17,
              "data": {"name": "helsinki"},
              "transform": [{"filter": "datum.month <= 1.5"}],
              "mark": {"type": "point", "filled": true, "size": 26, "color": "black", "opacity": 1},
              "encoding": {
                "x": {"field": "year", "type": "quantitative", "scale": {"domain": [1896.5, 2017.5], "nice": false, "zero": false}, "axis": {"values": [1900, 1910, 1920, 1930, 1940, 1950, 1960, 1970, 1980, 1990, 2000, 2010], "format": "d", "labelExpr": "datum.value % 20 === 0 ? datum.label : ''", "title": null}},
                "y": {"field": "month", "type": "quantitative", "scale": {"domain": [0.5, 1.5], "nice": false, "zero": false}, "axis": {"ticks": false, "labels": false, "title": null}}
              }
            }
          ],
          "spacing": 6,
          "resolve": {"scale": {"x": "independent", "y": "independent"}}
        },
        {
          "vconcat": [
            {
              "title": "Ratan",
              "width": 264, "height": 226,
              "data": {"name": "ratan"},
              "transform": [{"filter": "datum.month > 3.5"}],
              "mark": {"type": "point", "filled": true, "size": 26, "color": "black", "opacity": 1},
              "encoding": {
                "x": {"field": "year", "type": "quantitative", "scale": {"domain": [1896.5, 2017.5], "nice": false, "zero": false}, "axis": null},
                "y": {"field": "month", "type": "quantitative", "scale": {"domain": [3.376, 12.4], "nice": false, "zero": false}, "axis": {
                  "values": [4, 6, 8, 10, 12, 10.364, 8.728, 7.092, 5.456, 3.82],
                  "labelExpr": "datum.value == 12 ? '12' : abs(datum.value - 10.364) < 0.01 ? '10' : abs(datum.value - 8.728) < 0.01 ? '8' : abs(datum.value - 7.092) < 0.01 ? '6' : abs(datum.value - 5.456) < 0.01 ? '4' : abs(datum.value - 3.82) < 0.01 ? '2' : ''",
                  "tickOpacity": {"condition": {"test": "datum.value % 2 === 0", "value": 1}, "value": 0},
                  "title": "month", "titleY": 124.3}}
              }
            },
            {
              "width": 264, "height": 17,
              "data": {"name": "ratan"},
              "transform": [{"filter": "datum.month <= 3.5"}],
              "mark": {"type": "point", "filled": true, "size": 26, "color": "black", "opacity": 1},
              "encoding": {
                "x": {"field": "year", "type": "quantitative", "scale": {"domain": [1896.5, 2017.5], "nice": false, "zero": false}, "axis": {"values": [1900, 1910, 1920, 1930, 1940, 1950, 1960, 1970, 1980, 1990, 2000, 2010], "format": "d", "labelExpr": "datum.value % 20 === 0 ? datum.label : ''", "title": null}},
                "y": {"field": "month", "type": "quantitative", "scale": {"domain": [2.5, 3.5], "nice": false, "zero": false}, "axis": {"ticks": false, "labels": false, "title": null}}
              }
            }
          ],
          "spacing": 6,
          "resolve": {"scale": {"x": "independent", "y": "independent"}}
        }
      ],
      "spacing": 19.2,
      "resolve": {"scale": {"x": "independent", "y": "independent"}}
    }
  ],
  "spacing": 26.5,
  "resolve": {"scale": {"x": "independent", "y": "independent"}},
  "config": {
    "view": {"stroke": null},
    "font": "Liberation Sans",
    "title": {"font": "Liberation Sans", "fontSize": 16, "fontWeight": "normal", "color": "black", "anchor": "middle", "frame": "group", "offset": 1.5, "baseline": "alphabetic"},
    "axis": {"domainColor": "black", "tickColor": "black", "labelColor": "black", "titleColor": "black", "labelFont": "Liberation Sans", "titleFont": "Liberation Sans", "labelFontSize": 16, "titleFontSize": 16, "titleFontWeight": "normal", "tickSize": 6, "grid": false, "labelFlush": false, "labelOverlap": false, "domainWidth": 1, "tickWidth": 1},
    "axisX": {"labelBaseline": "alphabetic", "labelPadding": 11.5, "labelAngle": 0},
    "axisY": {"labelAngle": -90, "labelAlign": "center", "labelBaseline": "alphabetic", "labelPadding": 1.3, "titleBaseline": "alphabetic", "titlePadding": 6.7}
  }
}
